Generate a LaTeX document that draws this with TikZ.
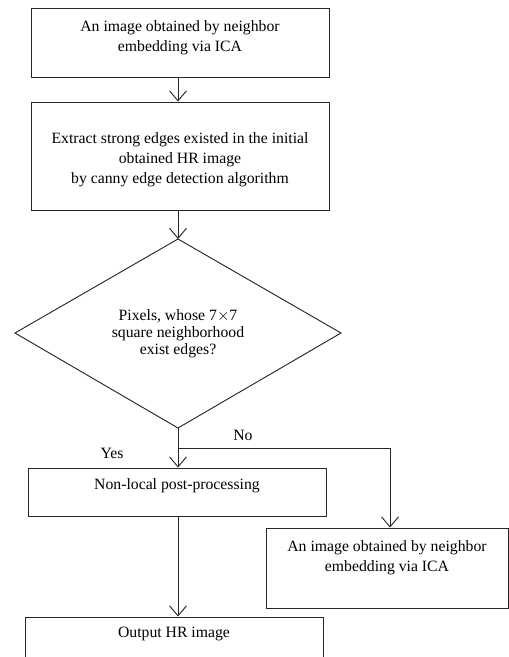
\documentclass[tikz,border=0pt]{standalone}
\usepackage{fontspec}
\setmainfont{Liberation Serif}
\usetikzlibrary{arrows.meta}
\newdimen\pxu \pxu=0.75pt
\begin{document}
\begin{tikzpicture}[x=0.75pt,y=-0.75pt,
  box/.style={draw=black!85,line width=0.7pt,rectangle,inner sep=0pt},
  txt/.style={align=center,inner sep=0pt,font=\fontsize{11.8}{15}\selectfont},
  dtxt/.style={align=center,inner sep=0pt,font=\fontsize{11.8}{12.8}\selectfont},
  lbl/.style={inner sep=0pt,font=\fontsize{11.8}{12}\selectfont},
  line/.style={draw=black!85,line width=0.7pt},
  arr/.style={line,-{Straight Barb[length=7.5pt,width=12.75pt,line width=0.7pt]}}]
\useasboundingbox (0,0) rectangle (509,657);
\coordinate (col) at (178,0);
\coordinate (col2) at (390,0);
% boxes
\node[box,minimum width=298\pxu,minimum height=69\pxu] (b1) at (180,42.5) {};
\node[txt] (b1t) at (180,37.5) {An image obtained by neighbor\\embedding via ICA};
\node[box,minimum width=298\pxu,minimum height=108\pxu] (b2) at (180,156) {};
\node[txt] (b2t) at (180,159.5) {Extract strong edges existed in the initial\\obtained HR image\\by canny edge detection algorithm};
% diamond
\coordinate (dt) at (178,239);
\coordinate (dl) at (15,333);
\coordinate (dr) at (341,333);
\coordinate (db) at (178,428);
\draw[line] (dt) -- (dr) -- (db) -- (dl) -- cycle;
\node[dtxt] (dtx) at (178,333.5) {Pixels, whose 7$\times$7\\square neighborhood\\exist edges?};
\node[box,minimum width=298\pxu,minimum height=48\pxu] (b3) at (177,492) {};
\node[txt] (b3t) at (177,485.5) {Non-local post-processing};
\node[box,minimum width=242\pxu,minimum height=80\pxu] (b4) at (387,568) {};
\node[txt] (b4t) at (387,557.5) {An image obtained by neighbor\\embedding via ICA};
\node[box,minimum width=298\pxu,minimum height=70\pxu] (b5) at (174,652) {};
\node[txt] (b5t) at (174,633.5) {Output HR image};
% connectors
\draw[arr] (b1.south -| col) -- (b2.north -| col);
\draw[arr] (b2.south -| col) -- (dt);
\coordinate (br) at (178,448);
\draw[arr] (db) -- (b3.north -| col);
\draw[arr] (br) -| (b4.north -| col2);
\draw[arr] (b3.south -| col) -- (b5.north -| col);
\node[lbl] (no) at (243,435) {No};
\node[lbl] (yes) at (112,453) {Yes};
\end{tikzpicture}
\end{document}
